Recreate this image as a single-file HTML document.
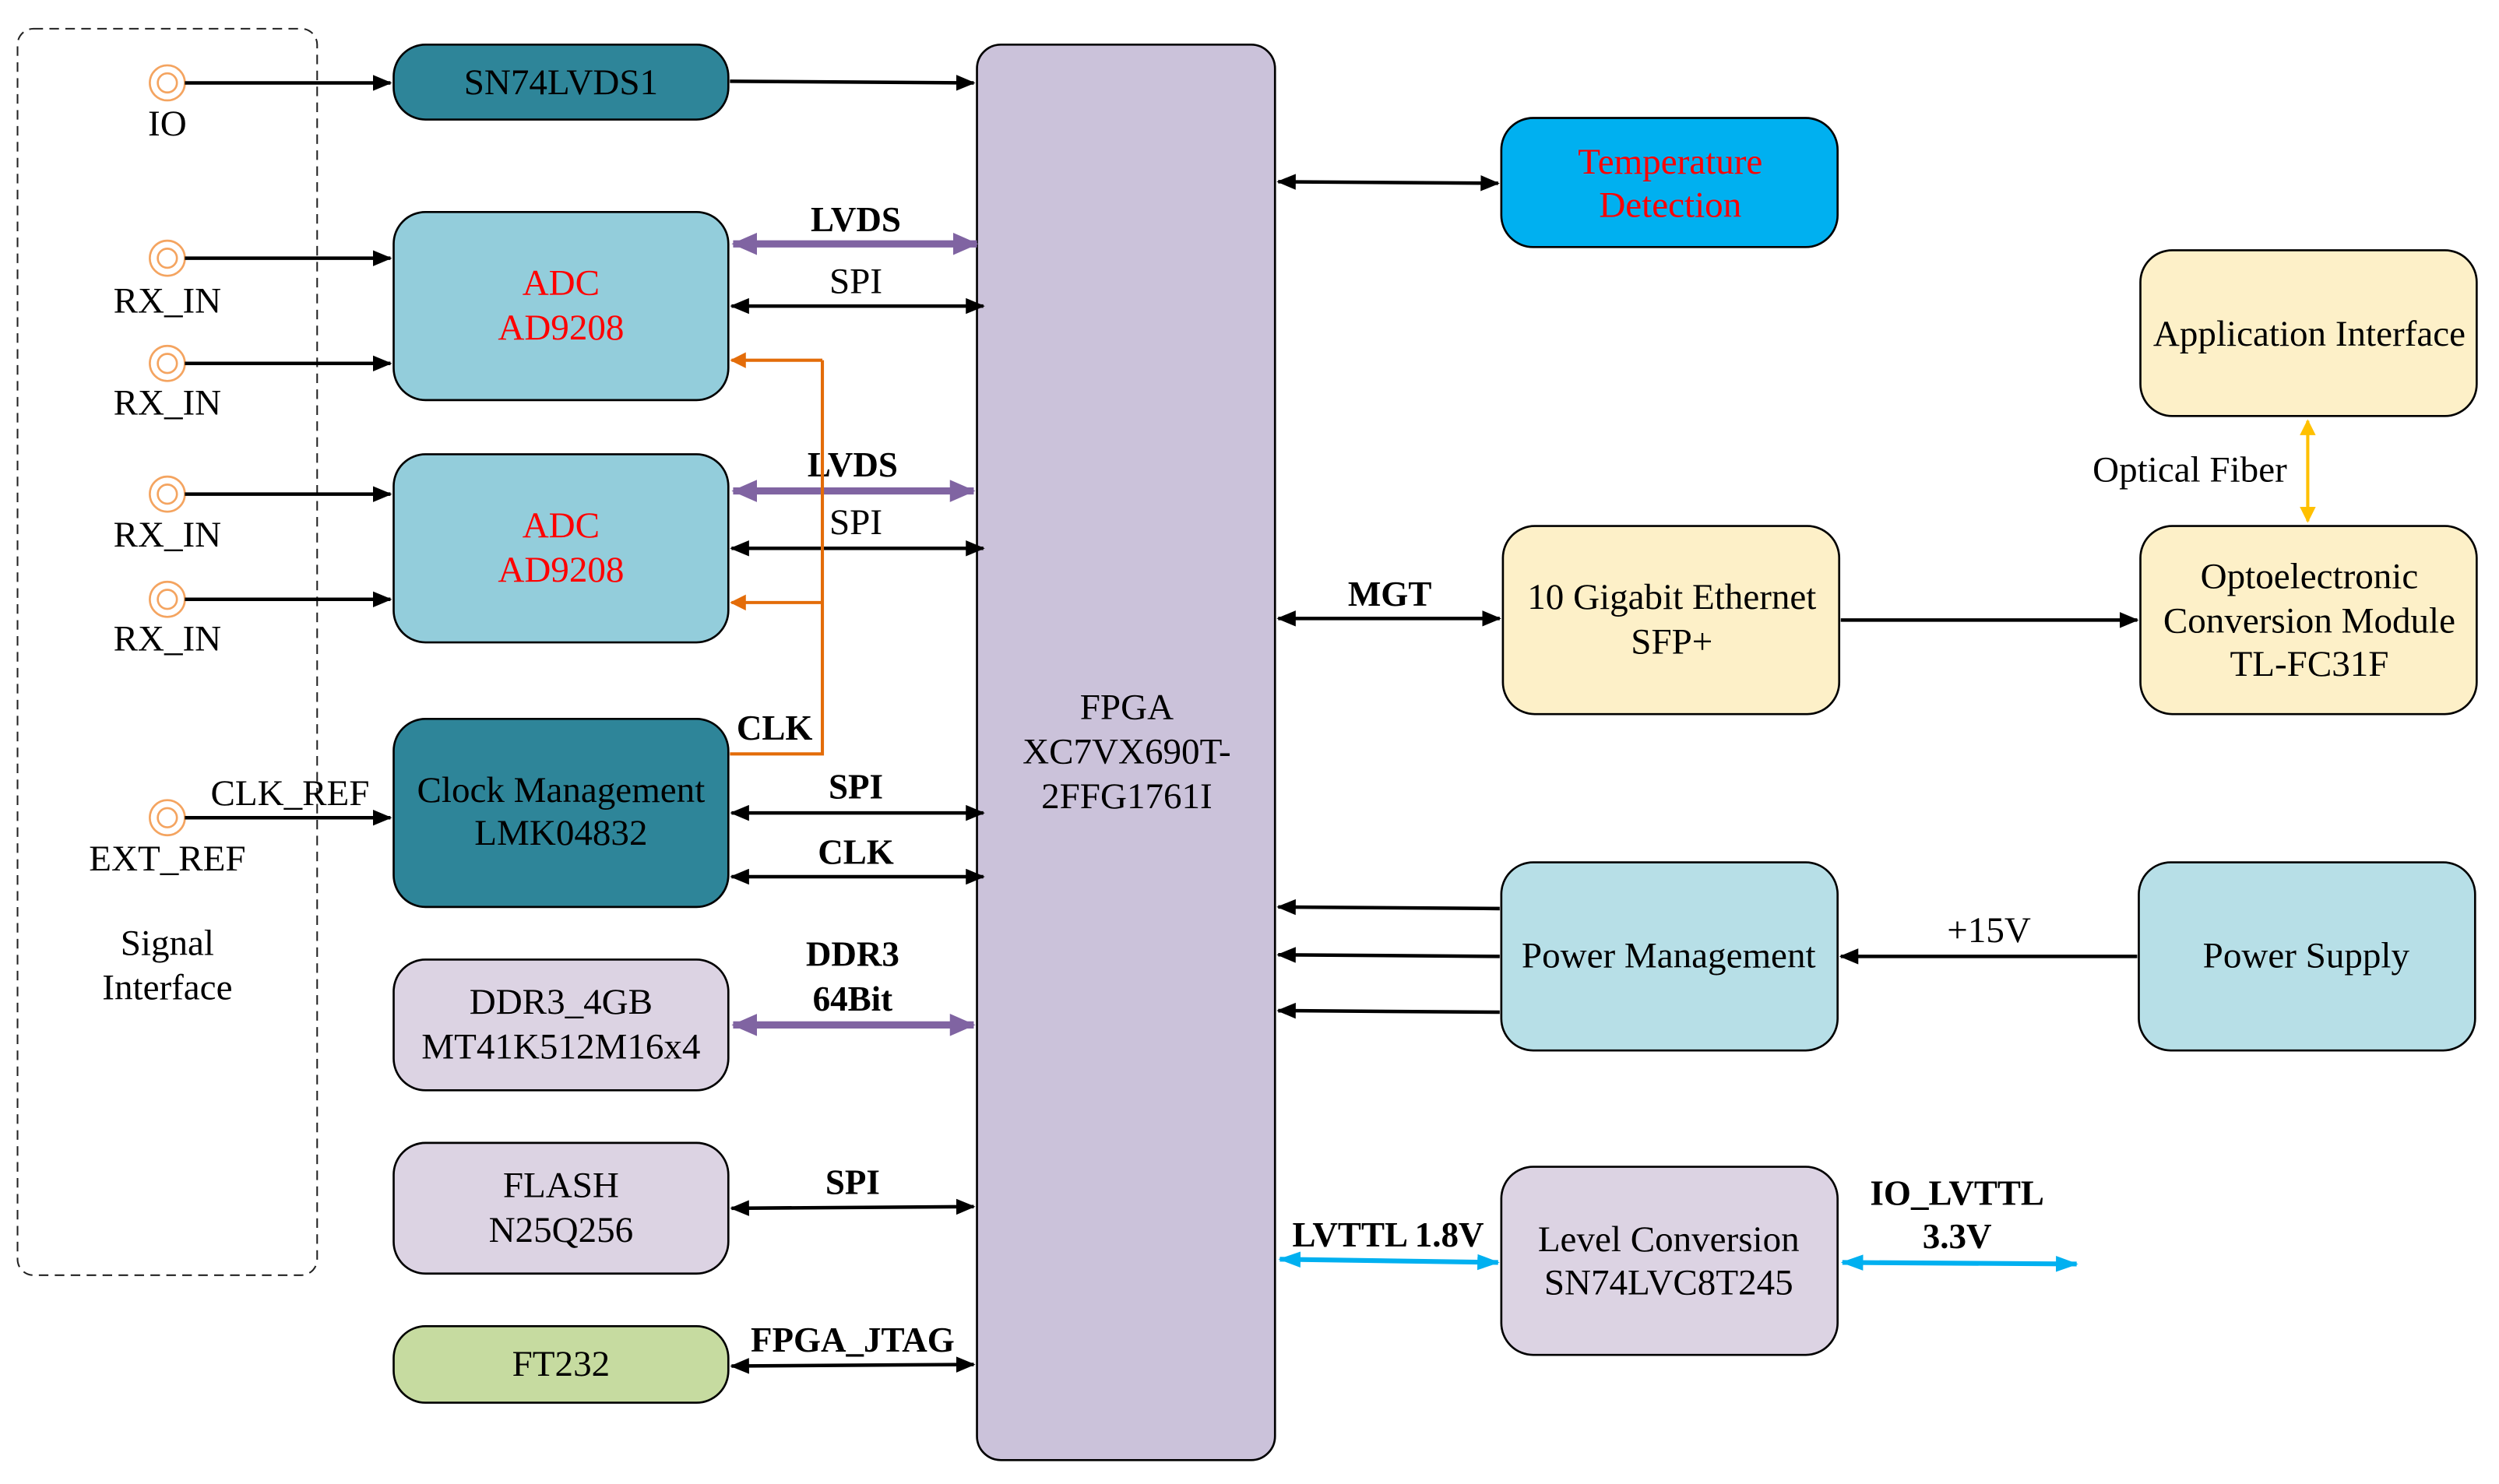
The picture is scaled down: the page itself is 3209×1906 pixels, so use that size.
<!DOCTYPE html>
<html><head><meta charset="utf-8"><style>html,body{margin:0;padding:0;background:#fff}svg{display:block}</style></head>
<body>
<svg width="3209" height="1906" viewBox="0 0 1568 931" preserveAspectRatio="none" xmlns="http://www.w3.org/2000/svg" font-family="'Liberation Serif', serif" font-size="23">
<defs>
<marker id="ak" markerWidth="12" markerHeight="10" refX="11" refY="5" orient="auto-start-reverse" markerUnits="userSpaceOnUse"><path d="M0,0 L12,5 L0,10 z" fill="#000"/></marker>
<marker id="ap" markerWidth="16" markerHeight="14" refX="15" refY="7" orient="auto-start-reverse" markerUnits="userSpaceOnUse"><path d="M0,0 L16,7 L0,14 z" fill="#8064a2"/></marker>
<marker id="ao" markerWidth="10" markerHeight="10" refX="9" refY="5" orient="auto-start-reverse" markerUnits="userSpaceOnUse"><path d="M0,0 L10,5 L0,10 z" fill="#e36c09"/></marker>
<marker id="ab" markerWidth="14" markerHeight="10" refX="13" refY="5" orient="auto-start-reverse" markerUnits="userSpaceOnUse"><path d="M0,0 L14,5 L0,10 z" fill="#00b0f0"/></marker>
<marker id="ay" markerWidth="10" markerHeight="10" refX="9" refY="5" orient="auto-start-reverse" markerUnits="userSpaceOnUse"><path d="M0,0 L10,5 L0,10 z" fill="#ffc000"/></marker>
</defs>
<rect x="11" y="18" width="188" height="782" rx="10" fill="none" stroke="#222" stroke-dasharray="6,4" stroke-width="1"/>
<g fill="none" stroke="#f4a460" stroke-width="1.3">
<circle cx="105" cy="52" r="11"/><circle cx="105" cy="52" r="6"/>
<circle cx="105" cy="162" r="11"/><circle cx="105" cy="162" r="6"/>
<circle cx="105" cy="228" r="11"/><circle cx="105" cy="228" r="6"/>
<circle cx="105" cy="310" r="11"/><circle cx="105" cy="310" r="6"/>
<circle cx="105" cy="376" r="11"/><circle cx="105" cy="376" r="6"/>
<circle cx="105" cy="513" r="11"/><circle cx="105" cy="513" r="6"/>
</g>
<g text-anchor="middle">
<text x="105" y="85">IO</text>
<text x="105" y="196">RX_IN</text><text x="105" y="260">RX_IN</text>
<text x="105" y="343">RX_IN</text><text x="105" y="408">RX_IN</text>
<text x="105" y="546">EXT_REF</text><text x="182" y="505">CLK_REF</text>
<text x="105" y="599">Signal</text><text x="105" y="627">Interface</text>
</g>
<g stroke="#000" stroke-width="2.2" marker-end="url(#ak)">
<line x1="116" y1="52" x2="245" y2="52"/><line x1="116" y1="162" x2="245" y2="162"/><line x1="116" y1="228" x2="245" y2="228"/>
<line x1="116" y1="310" x2="245" y2="310"/><line x1="116" y1="376" x2="245" y2="376"/><line x1="116" y1="513" x2="245" y2="513"/>
<line x1="458" y1="51" x2="611" y2="52"/>
</g>
<g stroke="#000" stroke-width="1.3">
<rect x="247" y="28" width="210" height="47" rx="20" fill="#2e8599"/>
<rect x="247" y="133" width="210" height="118" rx="20" fill="#93cddb"/>
<rect x="247" y="285" width="210" height="118" rx="20" fill="#93cddb"/>
<rect x="247" y="451" width="210" height="118" rx="20" fill="#2e8599"/>
<rect x="247" y="602" width="210" height="82" rx="20" fill="#dcd3e3"/>
<rect x="247" y="717" width="210" height="82" rx="20" fill="#dcd3e3"/>
<rect x="247" y="832" width="210" height="48" rx="20" fill="#c6dba0"/>
<rect x="613" y="28" width="187" height="888" rx="15" fill="#cbc2da"/>
<rect x="942" y="74" width="211" height="81" rx="20" fill="#00b0f0"/>
<rect x="1343" y="157" width="211" height="104" rx="20" fill="#fdf0c8"/>
<rect x="943" y="330" width="211" height="118" rx="20" fill="#fdf0c8"/>
<rect x="1343" y="330" width="211" height="118" rx="20" fill="#fdf0c8"/>
<rect x="942" y="541" width="211" height="118" rx="20" fill="#b7dfe7"/>
<rect x="1342" y="541" width="211" height="118" rx="20" fill="#b7dfe7"/>
<rect x="942" y="732" width="211" height="118" rx="20" fill="#dcd3e3"/>
</g>
<g text-anchor="middle">
<text x="352" y="59">SN74LVDS1</text>
<text x="352" y="185" fill="#ff0000">ADC</text><text x="352" y="213" fill="#ff0000">AD9208</text>
<text x="352" y="337" fill="#ff0000">ADC</text><text x="352" y="365" fill="#ff0000">AD9208</text>
<text x="352" y="503">Clock Management</text><text x="352" y="530">LMK04832</text>
<text x="352" y="636">DDR3_4GB</text><text x="352" y="664">MT41K512M16x4</text>
<text x="352" y="751">FLASH</text><text x="352" y="779">N25Q256</text>
<text x="352" y="863">FT232</text>
<text x="707" y="451">FPGA</text><text x="707" y="479">XC7VX690T-</text><text x="707" y="507">2FFG1761I</text>
<text x="1048" y="109" fill="#ff0000">Temperature</text><text x="1048" y="136" fill="#ff0000">Detection</text>
<text x="1449" y="217">Application Interface</text>
<text x="1049" y="382">10 Gigabit Ethernet</text><text x="1049" y="410">SFP+</text>
<text x="1449" y="369">Optoelectronic</text><text x="1449" y="397">Conversion Module</text><text x="1449" y="424">TL-FC31F</text>
<text x="1047" y="607">Power Management</text><text x="1447" y="607">Power Supply</text>
<text x="1047" y="785">Level Conversion</text><text x="1047" y="812">SN74LVC8T245</text>
<text x="1374" y="302">Optical Fiber</text>
<text x="1248" y="591">+15V</text>
</g>
<g text-anchor="middle" font-weight="bold" font-size="22">
<text x="537" y="145">LVDS</text><text x="535" y="299">LVDS</text>
<text x="486" y="464">CLK</text><text x="537" y="501">SPI</text><text x="537" y="542">CLK</text>
<text x="535" y="606">DDR3</text><text x="535" y="634">64Bit</text>
<text x="535" y="749">SPI</text><text x="535" y="848">FPGA_JTAG</text>
<text x="872" y="380">MGT</text>
<text x="871" y="782">LVTTL 1.8V</text>
<text x="1228" y="756">IO_LVTTL</text><text x="1228" y="783">3.3V</text>
</g>
<g text-anchor="middle"><text x="537" y="184">SPI</text><text x="537" y="335">SPI</text></g>
<g stroke="#8064a2" stroke-width="4.5" marker-start="url(#ap)" marker-end="url(#ap)">
<line x1="460" y1="153" x2="613" y2="153"/><line x1="460" y1="308" x2="611" y2="308"/><line x1="460" y1="643" x2="611" y2="643"/>
</g>
<g stroke="#000" stroke-width="2.2" marker-start="url(#ak)" marker-end="url(#ak)">
<line x1="459" y1="192" x2="617" y2="192"/><line x1="459" y1="344" x2="617" y2="344"/>
<line x1="459" y1="510" x2="617" y2="510"/><line x1="459" y1="550" x2="617" y2="550"/>
<line x1="459" y1="758" x2="611" y2="757"/><line x1="459" y1="857" x2="611" y2="856"/>
<line x1="802" y1="114" x2="940" y2="115"/><line x1="802" y1="388" x2="941" y2="388"/>
</g>
<g stroke="#000" stroke-width="2.2" marker-end="url(#ak)">
<line x1="1155" y1="389" x2="1341" y2="389"/>
<line x1="1341" y1="600" x2="1155" y2="600"/>
<line x1="941" y1="570" x2="802" y2="569"/><line x1="941" y1="600" x2="802" y2="599"/><line x1="941" y1="635" x2="802" y2="634"/>
</g>
<path d="M458,473 H516 V226" fill="none" stroke="#e36c09" stroke-width="2"/>
<g stroke="#e36c09" stroke-width="2" marker-end="url(#ao)">
<line x1="516" y1="226" x2="459" y2="226"/><line x1="516" y1="378" x2="459" y2="378"/>
</g>
<g stroke="#00b0f0" stroke-width="3" marker-start="url(#ab)" marker-end="url(#ab)">
<line x1="803" y1="790" x2="940" y2="792"/><line x1="1156" y1="792" x2="1303" y2="793"/>
</g>
<line x1="1448" y1="264" x2="1448" y2="327" stroke="#ffc000" stroke-width="2" marker-start="url(#ay)" marker-end="url(#ay)"/>
</svg>
</body></html>
